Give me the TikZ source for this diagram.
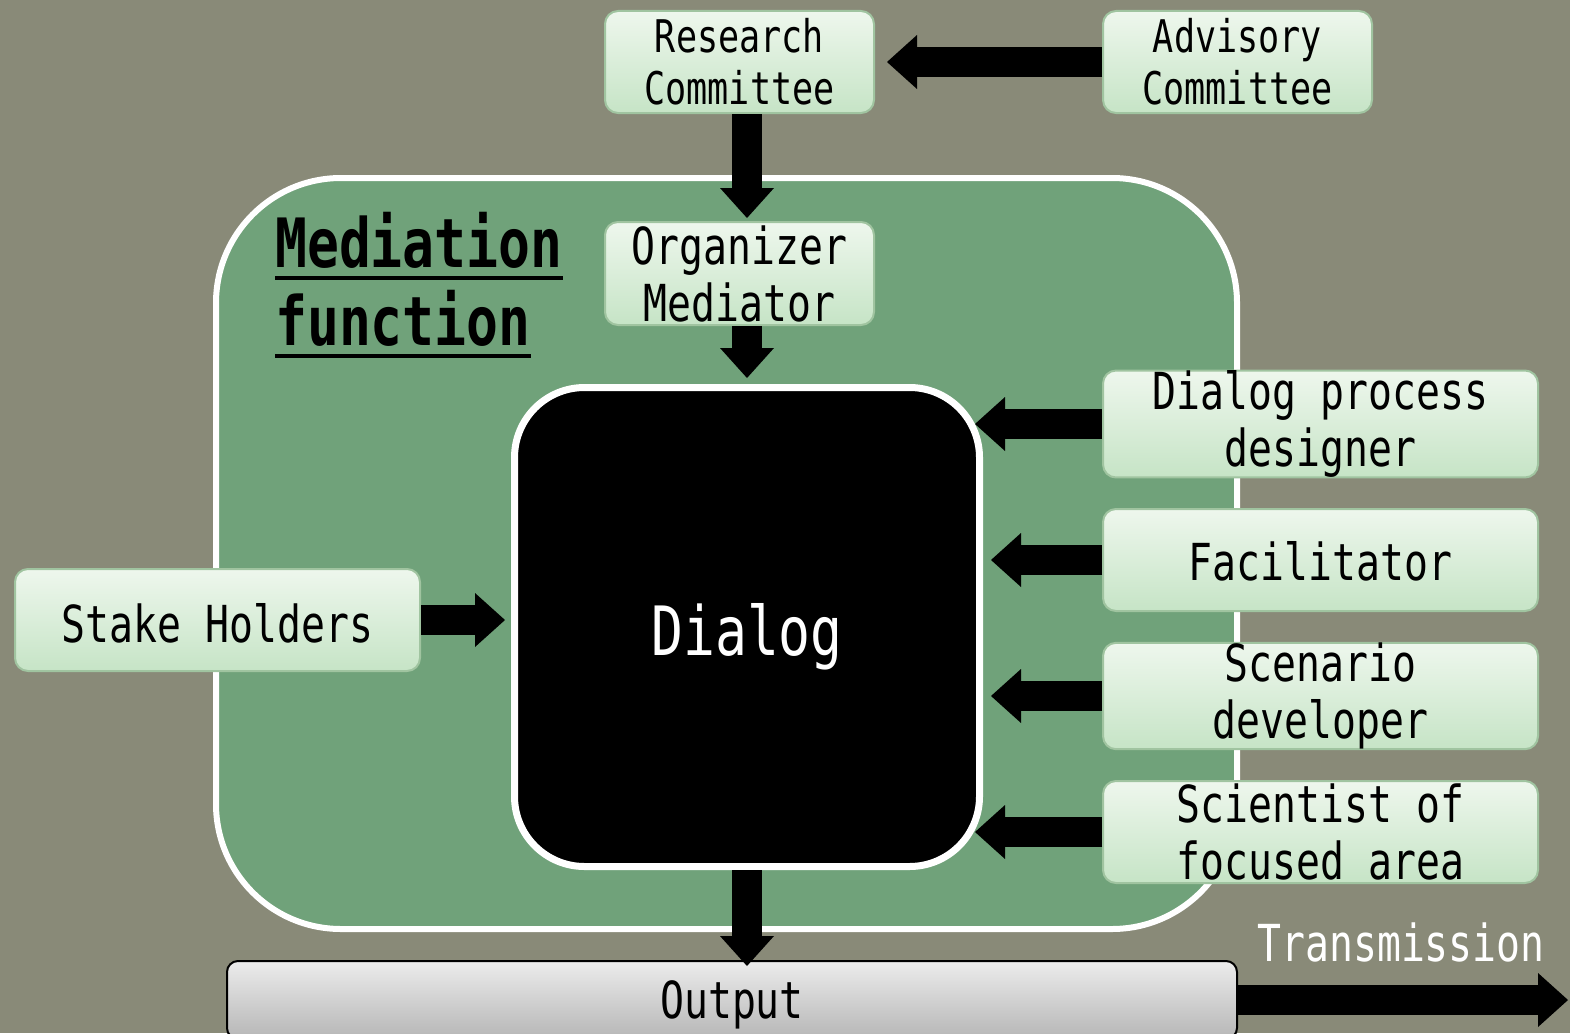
\documentclass[tikz,border=0pt]{standalone}
\usepackage{fontspec}
\setmainfont{DejaVu Sans Mono}[FakeStretch=0.78]
\usetikzlibrary{arrows.meta,positioning,shapes}

\definecolor{bgolive}{RGB}{137,138,120}
\definecolor{medgreen}{RGB}{112,162,122}
\definecolor{boxtop}{RGB}{238,247,237}
\definecolor{boxbot}{RGB}{198,228,198}
\definecolor{boxline}{RGB}{160,196,160}
\definecolor{outtop}{RGB}{236,236,236}
\definecolor{outbot}{RGB}{182,182,182}

\newcommand{\ulword}[1]{\setbox0\hbox{#1}\rlap{\rule[-12.5pt]{\wd0}{3.5pt}}\box0}

\tikzset{
  rolebox/.style={rectangle, rounded corners=13pt, draw=boxline, line width=2pt,
    top color=boxtop, bottom color=boxbot, align=center, inner sep=0pt,
    minimum height=102pt, font=\fontsize{51}{57}\selectfont},
  bigarrow/.style={line width=30pt, -{Triangle[width=54pt,length=30pt,line width=0pt]}},
}

\begin{document}
\begin{tikzpicture}[x=1pt, y=-1pt]
% Background
\fill[bgolive] (0,0) rectangle (1570,1033);
\useasboundingbox (0,0) rectangle (1570,1033);
\clip (0,0) rectangle (1570,1033);
% Mediation function area
\node[draw=white, line width=6pt, fill=medgreen, rounded corners=125pt, inner sep=0pt,
  minimum width=1021pt, minimum height=751pt] (medbox) at (726.5,553.5) {};
\node[anchor=north west, align=left, inner sep=0pt, font=\fontsize{68}{78}\selectfont\bfseries]
  (medtitle) at (275,212) {\ulword{Mediation}\\\ulword{function}};
% Committees
\node[rolebox, minimum width=269pt, font=\fontsize{45}{52}\selectfont] (res) at (739.5,62) {Research\\Committee};
\node[rolebox, minimum width=269pt, font=\fontsize{45}{52}\selectfont] (adv) at (1237.5,62) {Advisory\\Committee};
\node[rolebox, minimum width=269pt, minimum height=103pt] (org) at (739.5,273.5) {Organizer\\Mediator};
% Dialog
\node[draw=white, line width=7pt, fill=black, rounded corners=70pt, inner sep=0pt,
  minimum width=465pt, minimum height=479pt, text=white, text height=56pt, text depth=0pt,
  font=\fontsize{68}{75}\selectfont] (dialog) at (747,627) {Dialog};
% Participants
\node[rolebox, minimum width=405pt, text height=44pt, text depth=0pt] (stake) at (217.5,620) {Stake Holders};
\node[rolebox, minimum width=435pt] (dpd) at (1320.5,424) {Dialog process\\designer};
\node[rolebox, minimum width=435pt, text height=40pt, text depth=0pt] (fac) at (1320.5,560) {Facilitator};
\node[rolebox, minimum width=435pt] (scen) at (1320.5,696) {Scenario\\developer};
\node[rolebox, minimum width=435pt] (sci) at (1320.5,832) {Scientist of\\focused area};
% Output
\node[draw=black, line width=2pt, rounded corners=11pt, top color=outtop, bottom color=outbot,
  inner sep=0pt, minimum width=1010pt, minimum height=78pt, text height=36pt, text depth=0pt,
  font=\fontsize{51}{57}\selectfont] (out) at (732,1000) {Output};
\coordinate (edge) at (1570,1000);
\node[text=white, inner sep=0pt, font=\fontsize{51}{57}\selectfont] (translabel) at (1401,942) {Transmission};
% Arrows
\draw[bigarrow, shorten >=12pt] (adv.west) -- (res.east);
\draw[bigarrow, shorten >=3pt] (res.south -| dialog.north) -- (org.north -| dialog.north);
\draw[bigarrow, shorten >=6pt] (org.south -| dialog.north) -- (dialog.north);
\draw[bigarrow, shorten >=6pt] (stake.east) -- (dialog.west |- stake.east);
\draw[bigarrow, shorten >=-8pt] (dpd.west) -- (dialog.east |- dpd.west);
\draw[bigarrow, shorten >=8pt] (fac.west) -- (dialog.east |- fac.west);
\draw[bigarrow, shorten >=8pt] (scen.west) -- (dialog.east |- scen.west);
\draw[bigarrow, shorten >=-8pt] (sci.west) -- (dialog.east |- sci.west);
\draw[bigarrow, shorten >=-6pt] (dialog.south) -- (out.north -| dialog.south);
\draw[bigarrow, shorten >=2pt] (out.east) -- (edge);
\end{tikzpicture}
\end{document}
